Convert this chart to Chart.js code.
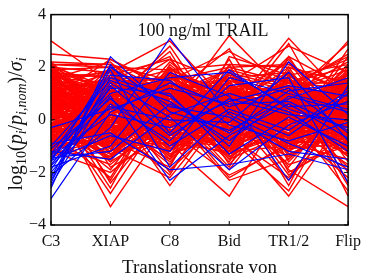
<!DOCTYPE html>
<html>
<head>
<meta charset="utf-8">
<script src="https://cdn.jsdelivr.net/npm/chart.js@4"></script>
<style>
  html, body { margin: 0; padding: 0; background: #fff; }
  #wrap { width: 368px; height: 276px; }
</style>
</head>
<body>
<div id="wrap"><canvas id="pc" width="368" height="276"></canvas></div>
<script>
const categories = ['C3', 'XIAP', 'C8', 'Bid', 'TR1/2', 'Flip'];
const yTicks = [-4, -2, 0, 2, 4];

// red: parameter sets (C3, XIAP, C8, Bid, TR1/2, Flip)
const redSets = [
  [3.0, 1.4, 0.5, -0.2, 0.8, 1.1], [2.5, 2.3, 1.2, 0.4, -0.5, 0.2], [2.2, 2.1, 1.5, 2.0, 2.1, 1.0],
  [2.1, 2.0, 0.8, 1.2, 0.3, -0.6], [2.0, 1.8, 3.0, 0.6, 1.4, 0.5], [1.9, 0.6, 2.8, -0.5, 0.1, 1.6],
  [1.8, -0.4, 0.2, 3.2, 0.9, -0.3], [1.7, 1.1, -1.2, 0.3, 3.1, 0.7], [1.6, 0.2, 0.9, 2.7, -0.8, 1.9],
  [1.5, -1.0, 1.6, 0.0, 2.9, -1.1], [1.4, 0.9, -0.6, 1.5, 0.5, 3.0], [1.3, -2.4, 0.4, -0.9, 1.2, 2.5],
  [1.2, 1.5, 2.4, -1.4, -0.2, 0.9], [1.1, -0.8, -1.8, 2.4, 1.7, -2.4], [1.0, 0.4, 1.1, -0.3, -2.9, 0.3],
  [0.9, -3.3, 0.0, 0.8, -1.2, 1.4], [0.8, 1.3, -0.9, -2.9, 0.7, -0.5], [0.7, -1.5, 1.9, 1.0, -1.9, -3.3],
  [0.6, 0.7, -2.5, 0.5, 1.0, 2.2], [0.5, -2.8, 0.6, -1.8, 2.4, -0.9], [0.4, 1.0, 1.3, -0.7, -2.7, 1.2],
  [0.3, -0.2, -1.5, 1.8, 0.2, -2.7], [0.2, 1.6, 0.3, -2.3, -1.5, 0.6], [0.1, -1.2, 2.1, 0.2, 1.5, -1.6],
  [0.0, 0.5, -0.3, 1.3, -2.5, 1.8], [-0.1, -1.9, 1.0, -1.1, 0.6, -0.2], [-0.2, 1.9, -1.1, 0.7, -0.6, 2.4],
  [-0.3, -0.6, 0.7, -1.6, 1.9, -1.3], [-0.4, 0.8, -2.0, 1.1, -0.4, 0.0], [-0.5, -2.2, 1.4, -0.1, 1.1, -2.0],
  [-0.6, 1.2, -0.4, -2.1, -1.0, 1.5], [-0.7, -0.9, 1.7, 0.9, 2.2, -0.7], [-0.8, 0.3, -1.3, -0.6, -2.2, 0.8],
  [-0.9, -1.7, 0.1, 1.6, 0.4, -1.8], [-1.0, 1.7, -0.7, -1.3, 1.3, 0.4], [-1.1, -0.3, 2.2, 0.4, -1.7, -1.0],
  [-1.2, -2.0, -0.2, -0.4, 0.0, 2.0], [-1.3, 0.1, -1.7, 1.4, -1.3, -0.4], [1.95, 0.0, 0.6, 1.7, -0.9, -1.5],
  [1.75, -1.3, -0.8, -1.0, 1.8, 0.1], [1.55, 2.2, 0.2, 0.9, -0.3, -2.2], [1.35, -0.5, 1.8, -1.7, 0.8, 1.3],
  [1.15, 0.6, -1.4, 2.1, -2.0, -0.8], [0.95, -2.3, 1.2, -0.2, 0.3, 1.7], [0.75, 1.4, -0.1, -1.2, 2.0, -1.2],
  [0.55, -1.1, -2.2, 0.6, -0.7, 2.7], [0.35, 0.9, 0.8, 1.9, -1.4, -0.1], [0.15, -1.6, 1.5, -0.8, 1.6, -2.9],
  [-0.05, 2.0, -0.5, 0.1, -0.1, 0.9], [-0.25, -0.7, 0.4, -1.9, 0.9, -1.4], [-0.45, 1.1, -1.0, 1.2, -1.8, 1.1],
  [-0.65, -1.4, 2.0, -0.5, 0.6, -0.6], [-0.85, 0.2, -1.6, 0.8, 1.4, 2.3], [-1.05, -0.1, 0.9, -1.5, -0.5, -1.9],
  [-1.25, 1.5, -0.3, 0.3, -2.3, 0.5], [-1.4, -0.8, 1.1, 1.5, 0.8, -0.2], [2.05, 1.2, -0.2, -0.6, 1.1, 1.9],
  [1.85, 0.3, 1.4, 0.5, -1.1, -0.9], [1.65, -1.8, -0.6, 1.3, 0.5, 0.4], [1.45, 0.8, 2.6, -1.1, -0.6, 1.0],
  [1.25, -0.4, -1.9, 0.2, 2.3, -0.3], [1.05, 1.8, 0.5, -2.2, -0.9, 1.6], [0.85, -2.6, 1.6, 0.7, 0.0, -1.1],
  [0.65, 0.5, -0.8, 2.3, -1.6, 0.7], [0.45, -1.0, 0.1, -0.4, 1.2, -2.5], [0.25, 1.3, 1.9, -1.0, 0.4, 1.3],
  [0.05, -0.6, -1.2, 0.9, -2.1, -0.5], [-0.15, 0.7, 0.7, -1.5, 1.7, 2.1], [-0.35, -1.3, -0.4, 0.4, -0.2, -1.7],
  [-0.55, 1.6, 1.2, -0.3, -1.4, 0.2], [-0.75, -0.2, -2.1, 1.6, 0.7, -0.8], [-0.95, 0.6, 0.3, -0.9, 1.0, 1.4],
  [-1.15, -1.5, 1.7, 0.0, -1.0, -0.1], [-1.35, 0.9, -0.9, -1.2, 0.3, 0.8], [2.1, 2.1, 1.0, 1.9, 1.3, 2.4],
  [1.9, 2.0, 1.9, 2.1, 2.0, 1.4], [1.3, 1.9, 0.9, 0.2, 2.4, 1.2], [0.8, 2.3, 1.1, 0.4, 0.9, 2.9],
  [1.6, 1.7, 2.3, 1.4, 2.8, 1.8], [1.0, 1.6, 1.5, 2.6, 1.4, 2.0], [0.3, 0.1, -0.1, 0.3, 0.1, -0.2],
  [-0.2, 0.4, 0.2, -0.1, 0.5, 0.3], [0.6, -0.3, 0.5, 0.6, -0.3, 0.6], [-0.6, 0.2, -0.4, 0.2, 0.2, -0.4],
  [1.2, 0.3, 0.0, -0.2, 0.6, 0.1], [-1.0, -0.2, 0.6, 0.5, -0.1, 0.4], [0.9, 0.9, -0.2, 0.0, -0.4, -0.6],
  [-0.4, -0.5, 0.8, -0.5, 0.7, 0.9], [1.4, 0.0, 0.4, 0.8, 0.0, -0.3], [-0.8, 0.5, -0.6, -0.3, 0.4, 0.5],
  [0.1, -0.8, 0.1, 1.1, -0.6, 0.0], [0.5, 0.8, -0.7, -0.7, 0.9, -0.7], [-1.2, -0.4, 1.0, 0.1, -0.8, 1.0],
  [1.7, 0.4, -0.5, 0.6, 0.3, -1.0], [0.0, -1.1, 0.3, -0.4, 1.1, 0.2], [-0.3, 1.0, -0.9, 0.9, -0.2, -0.9],
  [1.1, -0.7, 1.3, -0.8, 0.2, 0.7], [0.7, 0.2, -1.1, 0.4, -1.1, 1.1], [-0.9, -0.9, 0.5, 1.0, 0.6, -0.4],
  [0.4, 1.1, 0.0, -1.3, -0.5, 0.3], [0.2, 0.6, 0.9, 0.7, 0.4, -0.1], [-0.1, -0.3, -0.5, 0.2, 0.8, 0.6],
  [0.8, 0.4, 0.3, -0.6, -0.2, 0.9], [1.5, 0.7, -0.3, 0.5, 1.0, 0.2], [-0.7, 0.0, 0.4, 1.2, 0.3, -0.5],
  [1.0, -0.5, 0.8, 0.1, -0.7, 1.3], [0.4, 1.2, -0.8, -0.2, 0.5, -1.2], [-0.5, 0.9, 1.1, 0.8, -1.0, 0.5],
  [1.8, 0.5, 0.2, 1.0, 0.6, 1.1], [2.0, 1.0, 0.6, 0.3, 1.2, 0.8], [0.6, -1.0, -0.4, -0.9, 0.1, 0.0],
  [-0.2, 0.3, 1.4, -0.4, -0.9, -0.7], [1.3, 1.3, 0.5, 1.1, 0.8, 0.4], [-1.1, 0.6, -0.1, 0.6, 1.4, 1.2],
  [0.9, -0.2, -1.0, 0.0, 0.2, 1.7], [0.0, 0.8, 0.7, -1.0, -0.3, -1.3], [1.6, -0.6, 1.2, 0.4, -1.2, 0.1],
  [-0.6, -1.2, 0.0, -0.7, 0.9, 0.7], [0.5, 1.4, 1.6, 1.3, 0.0, -0.4], [1.1, 0.1, -0.6, 1.7, 1.1, 0.5],
  [-0.9, 0.4, 0.9, -0.1, -0.5, 1.5], [0.3, -0.9, 0.2, 0.9, 1.3, -0.8], [1.9, 1.1, 1.0, -0.3, 0.7, -0.2],
  [-0.4, 1.5, -0.2, 0.3, -0.8, 0.9], [0.7, -0.1, 1.8, 0.6, 0.5, 1.0], [-1.3, -0.7, 0.5, 1.4, 0.1, -0.3],
  [1.4, 0.9, -1.3, -0.5, 1.5, 0.6], [0.1, 0.0, 0.6, -1.4, -0.1, 1.9], [-0.8, 1.3, 1.3, 0.7, 1.0, -1.1],
  [2.2, 0.2, -0.7, 0.2, 0.4, 0.3], [0.9, 0.6, 0.1, 1.5, -1.3, -0.5], [-0.3, -1.4, 1.1, 0.0, 0.7, 1.2],
  [1.2, 1.0, -0.4, -1.1, 1.6, -0.1], [0.5, -0.4, 0.8, 1.2, -0.6, 0.4], [-1.0, 0.7, -1.5, 0.5, 0.4, 0.8],
  [1.7, -0.1, 0.4, -0.6, 0.9, -0.6], [0.2, 1.7, 0.9, 0.9, -0.4, 1.6], [-0.5, 0.2, -0.8, 1.8, 1.2, 0.1],
  [1.0, -1.1, 1.5, -0.2, 0.3, -1.4], [0.6, 0.5, -0.3, 0.8, -1.5, 0.7], [1.8, 1.6, 0.7, 0.0, 0.6, 1.3],
  [-0.1, -0.8, 1.9, -0.8, 0.2, -0.2], [1.3, 0.4, 0.1, 1.6, 1.8, 0.0], [-0.7, 1.1, 0.6, -0.4, -1.1, 1.8],
  [0.8, -1.6, -0.2, 0.7, 0.8, -0.9], [1.5, 1.2, 1.7, 1.0, -0.2, 2.1], [0.0, 0.6, -1.1, -0.2, 1.0, 0.5],
  [2.1, -0.2, 0.9, 0.5, 0.0, 1.5], [-1.2, 0.8, 0.3, 1.1, -0.7, -0.6], [0.4, -0.5, 1.2, -1.2, 1.1, 0.9],
  [1.6, 1.8, -0.5, 0.1, 0.5, -0.4], [-0.2, -0.1, 0.4, 2.0, 1.4, 1.4], [0.9, 1.4, 1.4, -0.7, -0.5, 0.2],
  [1.2, -0.9, -0.9, 0.4, 2.0, 1.0], [-0.6, 0.0, 1.0, -1.3, 0.6, -1.0], [0.7, 1.9, 0.2, 0.6, -0.9, 0.6],
  [1.9, 0.7, 1.3, 1.2, 1.1, 1.7], [-0.4, -1.3, -0.6, 0.3, 0.3, 0.2], [0.3, 0.9, 2.3, 0.0, 0.9, -0.7],
  [1.4, -0.3, 0.0, 1.4, -0.3, 1.4], [0.2, -0.4, 0.7, -0.3, 0.6, 1.0], [1.1, 0.5, 1.0, 0.9, -0.6, -0.2],
  [-0.8, -0.1, -0.3, 0.5, 1.1, 0.3], [1.5, 1.1, 0.3, -0.8, 0.2, 0.7], [0.6, -0.7, 1.3, 1.3, -0.4, -0.5],
  [-0.3, 0.7, -0.7, -0.5, 0.8, 1.4], [2.0, 0.3, 0.5, 0.7, -1.0, 0.4], [0.9, 1.2, -0.5, 0.2, 1.3, -0.8],
  [-1.1, -0.6, 1.2, -0.9, -0.1, 0.9], [1.3, 0.8, 0.8, 1.0, 0.5, 1.1], [0.4, -1.2, -0.1, 0.6, 1.6, -0.3],
  [-0.5, 1.4, 0.6, -1.1, 0.0, 0.6], [1.7, 0.0, -0.9, 0.9, 0.4, 1.5], [0.1, 0.9, 1.5, 0.1, -0.8, -0.9],
  [-0.9, -0.4, 0.2, 1.6, 0.7, 0.1], [1.0, 1.5, 1.1, -0.4, 1.2, 0.8], [0.5, -0.9, -0.6, -0.1, -0.5, 1.2],
  [1.8, 0.6, 1.6, 0.5, 0.9, -0.7], [-0.2, 0.1, -1.2, 1.0, 0.3, 0.5], [1.4, -0.8, 0.3, -1.0, 1.7, 0.0],
  [0.7, 1.0, 0.9, 1.4, -0.2, -1.2], [-0.6, -1.0, 0.5, 0.0, -1.2, 0.8], [1.2, 0.2, -0.2, 0.8, 0.1, 1.8],
  [0.0, 1.3, 1.0, -0.6, 1.5, 0.2], [1.9, -0.5, 0.1, 1.1, -0.7, -0.4], [-1.0, 0.3, -0.9, -0.3, 0.5, 1.1],
  [0.8, -0.2, 1.7, 0.2, 1.0, -0.1], [1.6, 1.4, -0.3, 1.8, 0.0, 0.6], [-0.4, -0.6, 0.8, -0.8, 1.3, -0.6],
  [0.3, 0.7, -1.4, 0.6, -0.6, 1.3], [2.1, 1.0, 0.4, -0.2, 0.8, 0.9], [-0.7, 0.5, 1.3, 1.2, -0.3, -0.8],
  [1.1, -1.3, 0.0, 0.3, 0.6, 0.3], [0.6, 1.6, 0.6, -1.2, -1.0, 1.6], [-0.1, -0.2, -0.4, 0.7, 1.8, -0.5],
  [1.5, 0.4, 1.1, 1.6, 0.3, 0.4], [-1.2, 1.1, -0.1, -0.1, 0.9, 1.0], [0.9, -0.3, 2.0, 0.4, -0.4, -1.0],
  [1.3, 0.8, -0.8, 1.3, 1.1, 0.1], [0.2, -1.5, 0.9, -0.5, 0.4, 1.2]
];

// blue: parameter sets (C3, XIAP, C8, Bid, TR1/2, Flip)
const blueSets = [
  [-3.0, 0.3, 1.4, 0.5, 1.2, -0.5], [-2.6, 2.4, 0.3, -0.4, 0.8, 1.6], [-2.4, 2.1, -0.5, 1.9, 0.4, -0.3],
  [-2.3, 1.6, 0.9, -1.0, 2.2, 0.2], [-2.2, 1.9, -1.8, 0.3, -0.6, 1.0], [-2.1, -0.3, 3.1, 0.2, -0.9, -1.8],
  [-2.0, 0.6, -0.8, 1.3, 1.6, -2.4], [-1.9, 1.4, 0.1, -1.9, -0.2, 0.7], [-1.8, -1.0, 1.8, 0.9, -2.3, 1.3],
  [-1.7, 0.9, -2.3, -0.6, 0.6, -0.7], [-1.6, 2.0, 0.5, 0.1, -1.2, -1.5], [-1.55, -0.6, -1.2, 1.6, 1.0, 0.4],
  [-1.5, 1.2, 1.0, -1.3, 0.1, -1.0], [-1.4, 0.2, -0.3, 0.7, 1.3, 0.9], [-1.3, 1.7, 1.5, -0.2, -0.8, -0.1],
  [-1.2, -1.5, 0.2, 1.0, 0.3, -1.2], [-1.1, 0.8, -1.0, 0.4, -0.4, 1.1], [-1.0, 1.5, 0.7, -0.8, 0.9, 0.3],
  [-0.9, -0.5, -1.9, -1.7, -1.3, -1.9], [-0.3, 0.4, 1.2, 0.6, 0.7, -0.4], [-1.35, 1.0, 1.6, 1.8, 0.5, 0.6],
  [-1.75, 0.5, 0.0, -0.1, 1.8, -0.8], [-2.5, 1.3, -0.6, 0.8, 0.2, 0.0], [-1.45, -1.2, 0.6, -0.5, 1.1, 1.4]
];

const serif = '"Liberation Serif", "DejaVu Serif", serif';

const datasets = [];
redSets.forEach(row => datasets.push({ data: row, borderColor: '#ff0000', borderWidth: 1.4, order: 1 }));
blueSets.forEach(row => datasets.push({ data: row, borderColor: '#0000ff', borderWidth: 1.2, order: 0 }));

const boxAndLabels = {
  id: 'boxAndLabels',
  afterDraw(chart) {
    const c = chart.ctx;
    const a = chart.chartArea;
    const xs = chart.scales.x, ys = chart.scales.y;
    c.save();
    c.strokeStyle = '#000';
    c.lineWidth = 1.5;
    c.strokeRect(a.left, a.top, a.right - a.left, a.bottom - a.top);
    c.lineWidth = 1;
    c.beginPath();
    categories.forEach((_, i) => {
      const x = xs.getPixelForValue(i);
      c.moveTo(x, a.bottom); c.lineTo(x, a.bottom - 4);
      c.moveTo(x, a.top); c.lineTo(x, a.top + 4);
    });
    yTicks.forEach(v => {
      const y = ys.getPixelForValue(v);
      c.moveTo(a.left, y); c.lineTo(a.left + 4, y);
      c.moveTo(a.right, y); c.lineTo(a.right - 4, y);
    });
    c.stroke();

    // title inside the plot
    c.fillStyle = '#111';
    c.font = '18px ' + serif;
    c.textAlign = 'center';
    c.textBaseline = 'middle';
    c.fillText('100 ng/ml TRAIL', 203, 31);

    // y axis label with subscripts
    const parts = [
      ['log', 0, 0], ['10', 0, 1], ['(', 0, 0], ['p', 1, 0], ['i', 1, 1], ['/', 0, 0],
      ['p', 1, 0], ['i,nom', 1, 1], [')', 0, 0], ['/', 0, 0], ['σ', 1, 0], ['i', 1, 1]
    ];
    const fontFor = p => (p[1] ? 'italic ' : '') + (p[2] ? '14px ' : '20px ') + serif;
    let total = 0;
    parts.forEach(p => { c.font = fontFor(p); total += c.measureText(p[0]).width; });
    c.translate(16, 124);
    c.rotate(-Math.PI / 2);
    c.textAlign = 'left';
    c.textBaseline = 'alphabetic';
    let x = -total / 2;
    parts.forEach(p => {
      c.font = fontFor(p);
      c.fillText(p[0], x, p[2] ? 10 : 6);
      x += c.measureText(p[0]).width;
    });
    c.restore();
  }
};

new Chart(document.getElementById('pc'), {
  type: 'line',
  data: { labels: categories, datasets: datasets },
  options: {
    responsive: false,
    animation: false,
    events: [],
    elements: { point: { radius: 0 }, line: { tension: 0 } },
    layout: { autoPadding: false, padding: { top: 11, right: 12, left: 0, bottom: 0 } },
    plugins: { legend: { display: false }, tooltip: { enabled: false }, title: { display: false } },
    scales: {
      x: {
        offset: false,
        grid: { display: false, drawTicks: false },
        border: { display: false },
        ticks: { color: '#111', font: { family: serif, size: 16 }, padding: 7, maxRotation: 0, autoSkip: false },
        title: {
          display: true, text: 'Translationsrate von', color: '#111',
          font: { family: serif, size: 19, lineHeight: 1 }, padding: { top: 0, bottom: -2 }
        },
        afterFit(s) { s.height = 51; }
      },
      y: {
        min: -4, max: 4,
        grid: { display: false, drawTicks: false },
        border: { display: false },
        ticks: {
          stepSize: 2, color: '#111', padding: 5,
          font: { family: serif, size: 16 },
          callback: v => v < 0 ? '\u2212' + Math.abs(v) : String(v)
        },
        afterFit(s) { s.width = 51; }
      }
    }
  },
  plugins: [boxAndLabels]
});
</script>
</body>
</html>
